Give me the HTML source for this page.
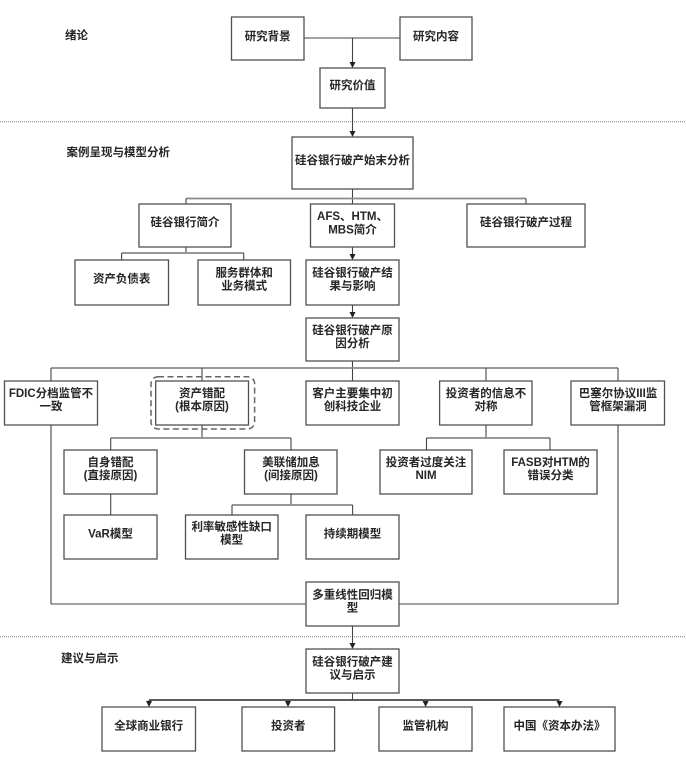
<!DOCTYPE html>
<html><head><meta charset="utf-8">
<style>
html,body{margin:0;padding:0;background:#fff;}
svg{display:block;}
text{font-family:"Liberation Sans","Noto Sans CJK SC",sans-serif;font-size:11.5px;fill:#262626;font-weight:bold;text-anchor:middle;dominant-baseline:central;}
.lbl{text-anchor:start;}
.b{fill:#fff;stroke:#505058;stroke-width:1.3;}
.l{stroke:#444;stroke-width:1.1;fill:none;}
.g{stroke:#8a8a8a;stroke-width:1.8;fill:none;}
.d{stroke:#777;stroke-width:1;stroke-dasharray:1 1;fill:none;}
.a{fill:#222;}
</style></head>
<body>
<svg width="686" height="779" viewBox="0 0 686 779" xmlns="http://www.w3.org/2000/svg">
<!-- dotted separators -->
<line class="d" x1="0" y1="121.7" x2="686" y2="121.7"/>
<line class="d" x1="0" y1="636.7" x2="686" y2="636.7"/>

<!-- section labels -->
<text class="lbl" x="65" y="36">绪论</text>
<text class="lbl" x="66.5" y="153">案例呈现与模型分析</text>
<text class="lbl" x="61" y="659">建议与启示</text>

<!-- connectors -->
<line class="l" x1="304" y1="38" x2="400" y2="38"/>
<line class="l" x1="352.5" y1="38" x2="352.5" y2="63"/>
<polygon class="a" points="349.5,62 355.5,62 352.5,68"/>
<line class="l" x1="352.5" y1="108" x2="352.5" y2="132"/>
<polygon class="a" points="349.5,131 355.5,131 352.5,137"/>

<line class="l" x1="352.5" y1="189" x2="352.5" y2="204"/>
<line class="g" x1="186" y1="198.5" x2="526" y2="198.5"/>
<line class="l" x1="186" y1="198.5" x2="186" y2="204"/>
<line class="l" x1="526" y1="198.5" x2="526" y2="204"/>

<line class="l" x1="186" y1="247" x2="186" y2="253"/>
<line class="g" x1="121.6" y1="253" x2="243.7" y2="253"/>
<line class="l" x1="121.6" y1="253" x2="121.6" y2="260"/>
<line class="l" x1="243.7" y1="253" x2="243.7" y2="260"/>

<line class="l" x1="352.5" y1="247" x2="352.5" y2="255"/>
<polygon class="a" points="349.5,254 355.5,254 352.5,260"/>
<line class="l" x1="352.5" y1="305" x2="352.5" y2="313"/>
<polygon class="a" points="349.5,312 355.5,312 352.5,318"/>

<line class="l" x1="352.5" y1="361" x2="352.5" y2="381"/>
<line class="g" x1="51" y1="368" x2="618" y2="368"/>
<line class="l" x1="51" y1="368" x2="51" y2="604"/>
<line class="l" x1="202" y1="368" x2="202" y2="381"/>
<line class="l" x1="486" y1="368" x2="486" y2="381"/>
<line class="l" x1="618" y1="368" x2="618" y2="604"/>
<line class="l" x1="51" y1="604" x2="306" y2="604"/>
<line class="l" x1="399" y1="604" x2="618" y2="604"/>

<line class="l" x1="202" y1="425" x2="202" y2="438"/>
<line class="g" x1="110.7" y1="438" x2="291" y2="438"/>
<line class="l" x1="110.7" y1="438" x2="110.7" y2="450"/>
<line class="l" x1="291" y1="438" x2="291" y2="450"/>

<line class="l" x1="486" y1="425" x2="486" y2="438"/>
<line class="g" x1="426.5" y1="438" x2="550" y2="438"/>
<line class="l" x1="426.5" y1="438" x2="426.5" y2="450"/>
<line class="l" x1="550" y1="438" x2="550" y2="450"/>

<line class="l" x1="110.7" y1="494" x2="110.7" y2="515"/>
<line class="l" x1="291" y1="494" x2="291" y2="505"/>
<line class="g" x1="232" y1="505" x2="352.6" y2="505"/>
<line class="l" x1="232" y1="505" x2="232" y2="515"/>
<line class="l" x1="352.6" y1="505" x2="352.6" y2="515"/>

<line class="l" x1="352.5" y1="626" x2="352.5" y2="644"/>
<polygon class="a" points="349.5,643 355.5,643 352.5,649"/>

<line class="l" x1="352.5" y1="693" x2="352.5" y2="700"/>
<line class="l" style="stroke-width:1.8" x1="149" y1="700" x2="559.5" y2="700"/>
<line class="l" x1="149" y1="700" x2="149" y2="702"/>
<polygon class="a" points="146,701 152,701 149,707"/>
<polygon class="a" points="285,701 291,701 288,707"/>
<polygon class="a" points="422.6,701 428.6,701 425.6,707"/>
<polygon class="a" points="556.5,701 562.5,701 559.5,707"/>

<!-- dashed highlight -->
<rect x="151" y="376.7" width="103.6" height="52.3" rx="7" ry="7" fill="none" stroke="#666" stroke-width="1.5" stroke-dasharray="6 3.5"/>

<!-- boxes -->
<rect class="b" x="231.5" y="17" width="72.5" height="43"/>
<text x="267.7" y="37">研究背景</text>
<rect class="b" x="400" y="17" width="72" height="43"/>
<text x="436" y="37">研究内容</text>
<rect class="b" x="320" y="68" width="65" height="40"/>
<text x="352.5" y="86">研究价值</text>

<rect class="b" x="292" y="137" width="121" height="52"/>
<text x="352.5" y="161">硅谷银行破产始末分析</text>

<rect class="b" x="139" y="204" width="92" height="43"/>
<text x="185" y="223">硅谷银行简介</text>
<rect class="b" x="310.5" y="204" width="84" height="43"/>
<text x="352.5" y="217">AFS、HTM、</text>
<text x="352.5" y="230.5">MBS简介</text>
<rect class="b" x="467" y="204" width="118" height="43"/>
<text x="526" y="223">硅谷银行破产过程</text>

<rect class="b" x="75" y="260" width="93.5" height="45"/>
<text x="121.7" y="279.5">资产负债表</text>
<rect class="b" x="198" y="260" width="92.5" height="45"/>
<text x="244.2" y="273.5">服务群体和</text>
<text x="244.2" y="286.5">业务模式</text>
<rect class="b" x="306" y="260" width="93" height="45"/>
<text x="352.5" y="273.5">硅谷银行破产结</text>
<text x="352.5" y="286.5">果与影响</text>

<rect class="b" x="306" y="318" width="93" height="43"/>
<text x="352.5" y="331">硅谷银行破产原</text>
<text x="352.5" y="344">因分析</text>

<rect class="b" x="4.5" y="381" width="93" height="44"/>
<text x="51" y="394">FDIC分档监管不</text>
<text x="51" y="407">一致</text>
<rect class="b" x="155.7" y="381" width="92.8" height="44"/>
<text x="202" y="394">资产错配</text>
<text x="202" y="407">(根本原因)</text>
<rect class="b" x="306" y="381" width="93" height="44"/>
<text x="352.5" y="394">客户主要集中初</text>
<text x="352.5" y="407">创科技企业</text>
<rect class="b" x="439.6" y="381" width="92.4" height="44"/>
<text x="486" y="394">投资者的信息不</text>
<text x="486" y="407">对称</text>
<rect class="b" x="571" y="381" width="93.5" height="44"/>
<text x="618" y="394">巴塞尔协议III监</text>
<text x="618" y="407">管框架漏洞</text>

<rect class="b" x="64" y="450" width="93" height="44"/>
<text x="110.5" y="463">自身错配</text>
<text x="110.5" y="476">(直接原因)</text>
<rect class="b" x="244.5" y="450" width="92.5" height="44"/>
<text x="291" y="463">美联储加息</text>
<text x="291" y="476">(间接原因)</text>
<rect class="b" x="380" y="450" width="92" height="44"/>
<text x="426" y="463">投资者过度关注</text>
<text x="426" y="476">NIM</text>
<rect class="b" x="504" y="450" width="93" height="44"/>
<text x="550.5" y="463">FASB对HTM的</text>
<text x="550.5" y="476">错误分类</text>

<rect class="b" x="64" y="515" width="93" height="44"/>
<text x="110.5" y="534.5">VaR模型</text>
<rect class="b" x="185.5" y="515" width="92.5" height="44"/>
<text x="231.7" y="527.5">利率敏感性缺口</text>
<text x="231.7" y="540.5">模型</text>
<rect class="b" x="306" y="515" width="93" height="44"/>
<text x="352.5" y="534.5">持续期模型</text>

<rect class="b" x="306" y="582" width="93" height="44"/>
<text x="352.5" y="595.5">多重线性回归模</text>
<text x="352.5" y="608.5">型</text>

<rect class="b" x="306" y="649" width="93" height="44"/>
<text x="352.5" y="662.5">硅谷银行破产建</text>
<text x="352.5" y="675.5">议与启示</text>

<rect class="b" x="102" y="707" width="93.5" height="44"/>
<text x="148.7" y="726.5">全球商业银行</text>
<rect class="b" x="242" y="707" width="92.6" height="44"/>
<text x="288.3" y="726.5">投资者</text>
<rect class="b" x="379" y="707" width="93" height="44"/>
<text x="425.5" y="726.5">监管机构</text>
<rect class="b" x="504" y="707" width="111" height="44"/>
<text x="559.5" y="726.5">中国《资本办法》</text>
</svg>
</body></html>
